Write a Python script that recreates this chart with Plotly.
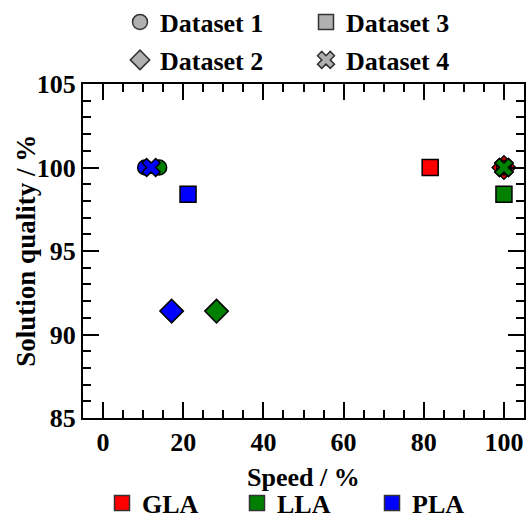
import plotly.graph_objects as go

# ---- data ----
methods = ["GLA", "LLA", "PLA"]
colors = {"GLA": "#ff0000", "LLA": "#008000", "PLA": "#0000ff"}
datasets = ["Dataset 1", "Dataset 2", "Dataset 3", "Dataset 4"]
symbols = {"Dataset 1": "circle", "Dataset 2": "diamond", "Dataset 3": "square", "Dataset 4": "x"}
msizes = {"Dataset 1": 15, "Dataset 2": 18, "Dataset 3": 16, "Dataset 4": 16}

# speed (%) per method per dataset
speed_GLA = [100, 100, 81.6, 100]
speed_LLA = [14, 28.3, 100, 100]
speed_PLA = [10.5, 17.1, 21.2, 12]
# solution quality (%) per method per dataset
quality_GLA = [100, 100, 100, 100]
quality_LLA = [100, 91.4, 98.4, 100]
quality_PLA = [100, 91.4, 98.4, 100]

speed = {"GLA": speed_GLA, "LLA": speed_LLA, "PLA": speed_PLA}
quality = {"GLA": quality_GLA, "LLA": quality_LLA, "PLA": quality_PLA}

x_ticks = [0, 20, 40, 60, 80, 100]
y_ticks = [85, 90, 95, 100, 105]
x_title = "Speed / %"
y_title = "Solution quality / %"

FONT = dict(family="Liberation Serif", size=26, color="black", weight="bold")

fig = go.Figure()

draw_order = {"GLA": ["Dataset 2", "Dataset 1", "Dataset 3", "Dataset 4"],
              "LLA": ["Dataset 1", "Dataset 2", "Dataset 3", "Dataset 4"],
              "PLA": ["Dataset 1", "Dataset 2", "Dataset 3", "Dataset 4"]}

for m in methods:
    for ds in draw_order[m]:
        i = datasets.index(ds)
        fig.add_trace(go.Scatter(
            x=[speed[m][i]], y=[quality[m][i]], mode="markers",
            marker=dict(symbol=symbols[ds], size=msizes[ds], color=colors[m],
                        line=dict(color="black", width=1.5)),
            showlegend=False, hoverinfo="skip"))

# legend for datasets (gray), two rows
row1 = ["Dataset 1", "Dataset 3"]
row2 = ["Dataset 2", "Dataset 4"]
for ds in row1:
    fig.add_trace(go.Scatter(x=[None], y=[None], mode="markers", name=ds,
                             marker=dict(symbol=symbols[ds], size=15, color="#b0b0b0",
                                         line=dict(color="#333333", width=1.5)),
                             legend="legend"))
for ds in row2:
    fig.add_trace(go.Scatter(x=[None], y=[None], mode="markers", name=ds,
                             marker=dict(symbol=symbols[ds], size=15, color="#b0b0b0",
                                         line=dict(color="#333333", width=1.5)),
                             legend="legend2"))
for m in methods:
    fig.add_trace(go.Scatter(x=[None], y=[None], mode="markers", name=m,
                             marker=dict(symbol="square", size=15, color=colors[m],
                                         line=dict(color="#333333", width=1.5)),
                             legend="legend3"))

W, H = 526, 518
leg_common = dict(orientation="h", xref="container", yref="container",
                  xanchor="left", yanchor="middle", font=FONT,
                  bgcolor="rgba(0,0,0,0)", entrywidthmode="pixels",
                  itemclick=False, itemdoubleclick=False)

axis_common = dict(showline=True, linecolor="black", linewidth=2, mirror="allticks",
                   ticks="inside", ticklen=16, tickwidth=1.5, tickcolor="black",
                   showgrid=False, zeroline=False, tickfont=FONT)

fig.update_layout(
    width=W, height=H,
    margin=dict(l=83, r=2, t=84, b=100, autoexpand=False),
    paper_bgcolor="white", plot_bgcolor="white",
    font=FONT,
    xaxis=dict(range=[-5, 105], tickvals=x_ticks, ticktext=[str(v) for v in x_ticks],
               minor=dict(ticks="inside", ticklen=8, tickwidth=1.5, tickcolor="black", dtick=5, tick0=0),
               **axis_common),
    yaxis=dict(range=[85, 105], tickvals=y_ticks, ticktext=[str(v) for v in y_ticks],
               minor=dict(ticks="inside", ticklen=8, tickwidth=1.5, tickcolor="black", dtick=1, tick0=85),
               **axis_common),
    legend=dict(x=120 / W, y=1 - 22 / H, entrywidth=141, **leg_common),
    legend2=dict(x=120 / W, y=1 - 60 / H, entrywidth=141, **leg_common),
    legend3=dict(x=102 / W, y=1 - 503 / H, entrywidth=90, **leg_common),
    annotations=[
        dict(text=y_title, textangle=-90, xref="paper", yref="paper",
             x=-0.13, y=0.5, xanchor="center", yanchor="middle",
             showarrow=False, font=dict(FONT, size=27)),
        dict(text=x_title, xref="paper", yref="paper",
             x=0.5, y=-0.177, xanchor="center", yanchor="middle",
             showarrow=False, font=FONT),
    ],
)

fig.write_html("out.html")
